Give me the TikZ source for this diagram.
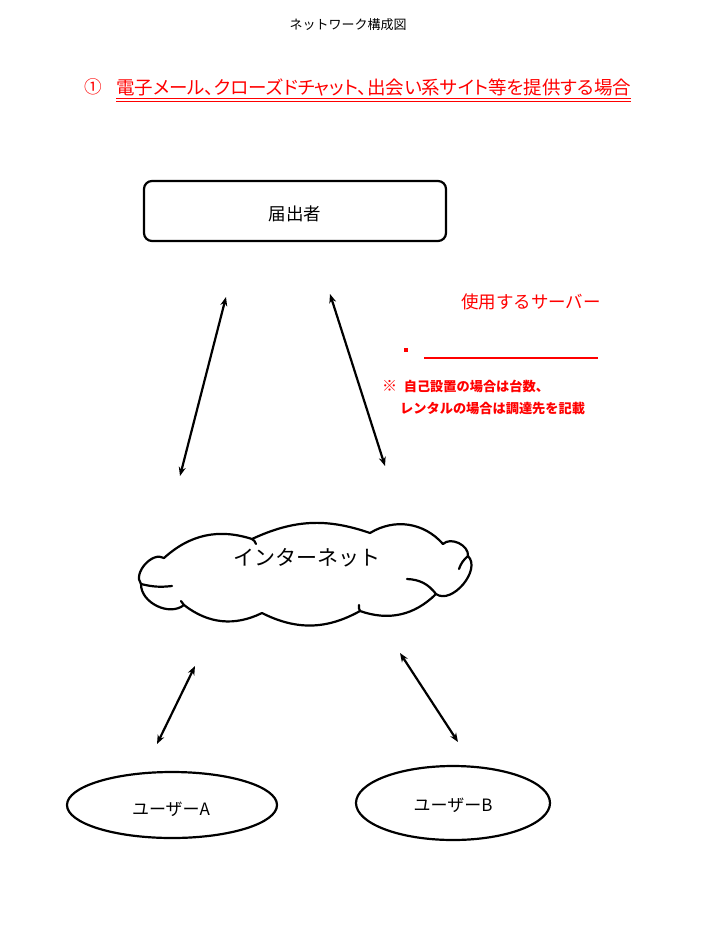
\documentclass[tikz,border=0pt]{standalone}
\usepackage{fontspec}
\setmainfont{Noto Sans CJK JP}
\newfontfamily\pjp[RawFeature=+palt]{Noto Sans CJK JP}
\usetikzlibrary{arrows.meta,shapes.geometric}
\definecolor{hred}{RGB}{255,0,0}
\begin{document}
\begin{tikzpicture}[x=1pt,y=-1pt,
  conn/.style={line width=2.2pt,{Stealth[length=9pt,width=7pt]}-{Stealth[length=9pt,width=7pt]}},
  redtxt/.style={text=hred,inner sep=0pt},
  shp/.style={draw,line width=2.2pt,fill=white},
  cloudline/.style={line width=2.2pt,line join=round,line cap=round}]
\useasboundingbox (0,0) rectangle (722,926);
\fill[white] (0,0) rectangle (722,926);
% title
\node[inner sep=0pt,font=\fontsize{13}{15}\selectfont] (title) at (348,25) {ネットワーク構成図};
% heading
\node[redtxt,font=\fontsize{17.6}{20}\selectfont,anchor=west] (num) at (84,87) {①};
\node[redtxt,font=\pjp\fontsize{18.5}{20}\selectfont,anchor=west] (head) at (116,87) {電子メール、クローズドチャット、出会い系サイト等を提供する場合};
\draw[hred,line width=1pt] (head.south west)++(0,3) coordinate (u1) -- (head.south east|-u1);
\draw[hred,line width=1pt] (head.south west)++(0,6) coordinate (u2) -- (head.south east|-u2);
% box
\node[shp,rounded corners=8pt,minimum width=302pt,minimum height=60pt] (todoke) at (295,211) {};
\node[inner sep=0pt,font=\fontsize{17.5}{20}\selectfont] (todoket) at (295,214) {届出者};
% server note
\node[redtxt,font=\fontsize{17.5}{20}\selectfont] (server) at (531,302) {使用するサーバー};
\fill[hred] (404,348) rectangle (408,352);
\coordinate (l1) at (424,358);
\coordinate (l2) at (598,358);
\draw[hred,line width=1.6pt] (l1) -- (l2);
\node[redtxt,font=\fontsize{13.2}{15}\selectfont\bfseries,anchor=west] (note1) at (382,386) {{\fontsize{15}{15}\selectfont ※}\hspace{0.5em}自己設置の場合は台数、};
\node[redtxt,font=\fontsize{13.2}{15}\selectfont\bfseries,anchor=west] (note2) at (400,409) {レンタルの場合は調達先を記載};
% cloud
\coordinate (c1) at (164,558);
\coordinate (c2) at (252,539);
\coordinate (c3) at (370,533);
\coordinate (c4) at (443,544);
\coordinate (c5) at (468,556);
\coordinate (c6) at (436,594);
\coordinate (c7) at (360,611);
\coordinate (c8) at (262,613);
\coordinate (c9) at (184,605);
\coordinate (c10) at (141,584);
\draw[cloudline,fill=white] (c1) to[bend left=30] (c2) to[bend left=22] (c3)
  to[bend left=40] (c4) to[bend left=70] (c5) to[bend left=85] (c6)
  to[bend left=32] (c7) to[bend left=28] (c8) to[bend left=32] (c9)
  to[bend left=65] (c10) to[bend left=80] cycle;
% interior fragments of the cloud
\draw[cloudline] (c10) to[bend right=10] (172,586);
\draw[cloudline] (c9) to[bend right=20] (181,601);
\draw[cloudline] (c2) to[bend left=20] (256,544);
\draw[cloudline] (c7) to[bend left=20] (359,605);
\draw[cloudline] (407,579) to[bend left=25] (c6);
\draw[cloudline] (c5) to[bend right=15] (459,569);
\node[inner sep=0pt,font=\fontsize{21}{24}\selectfont] (inet) at (307,558) {インターネット};
% ellipses
\node[shp,ellipse,minimum width=210pt,minimum height=66pt,inner sep=0pt] (ua) at (172,805) {};
\node[inner sep=0pt,font=\fontsize{17}{20}\selectfont] (uat) at (171,809) {ユーザーA};
\node[shp,ellipse,minimum width=194pt,minimum height=74pt,inner sep=0pt] (ub) at (453,803) {};
\node[inner sep=0pt,font=\fontsize{17}{20}\selectfont] (ubt) at (453,805) {ユーザーB};
% arrows
\coordinate (a1s) at (180,476); \coordinate (a1e) at (226,297);
\coordinate (a2s) at (330,294); \coordinate (a2e) at (385,466);
\coordinate (a3s) at (195,666); \coordinate (a3e) at (157,744);
\coordinate (a4s) at (400,653); \coordinate (a4e) at (458,742);
\draw[conn] (a1s) -- (a1e);
\draw[conn] (a2s) -- (a2e);
\draw[conn] (a3s) -- (a3e);
\draw[conn] (a4s) -- (a4e);
\end{tikzpicture}
\end{document}
